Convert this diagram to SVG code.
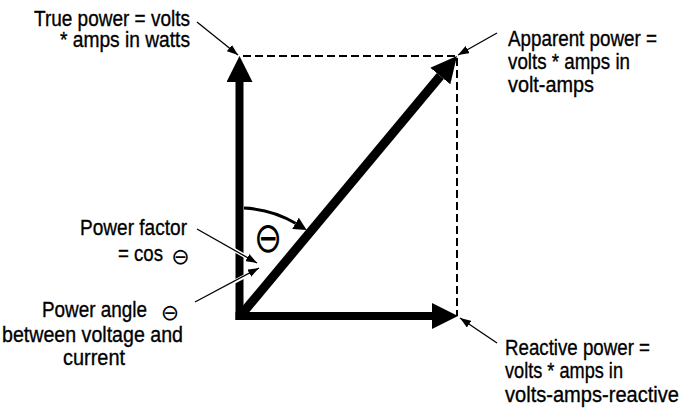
<svg xmlns="http://www.w3.org/2000/svg" width="684" height="416" viewBox="0 0 684 416">
<style>
.lbl{font-family:"Liberation Sans",Arial,sans-serif;font-size:22.5px;fill:#000;stroke:#000;stroke-width:0.35}
.sym{font-family:"DejaVu Sans",sans-serif;fill:#000}
.thick{stroke:#000;fill:none}
.dash{stroke:#000;stroke-width:2;stroke-dasharray:8 4;fill:none}
.lead{stroke:#000;stroke-width:1.3;fill:none;marker-end:url(#thin)}
.halo{stroke:#fff;stroke-width:4;fill:none}
</style>
<defs>
<marker id="big" markerUnits="userSpaceOnUse" viewBox="0 0 26 26" markerWidth="26" markerHeight="26" refX="0" refY="13" orient="auto"><path d="M0,0 L26,13 L0,26 z" fill="#000"/></marker>
<marker id="thin" markerUnits="userSpaceOnUse" viewBox="0 0 11 8" markerWidth="11" markerHeight="8" refX="11" refY="4" orient="auto"><path d="M0,0 L11,4 L0,8 z" fill="#000"/></marker>
<marker id="arc" markerUnits="userSpaceOnUse" viewBox="0 0 13 13" markerWidth="13" markerHeight="13" refX="0" refY="6.5" orient="auto"><path d="M0,0 L13,6.5 L0,13 z" fill="#000"/></marker>
</defs>

<g id="vectors">
<line id="true-power-vector" class="thick" x1="239.5" y1="320" x2="239.5" y2="82" stroke-width="8" marker-end="url(#big)"/>
<line id="reactive-power-vector" class="thick" x1="235.5" y1="316" x2="432" y2="316" stroke-width="8" marker-end="url(#big)"/>
<line id="apparent-power-vector" class="thick" x1="241" y1="315" x2="440.3" y2="76" stroke-width="9" marker-end="url(#big)"/>
<path class="dash" d="M243 56 H457 V316"/>
<path id="angle-arc" d="M244 208.1 A108 108 0 0 1 295.5 223.3" stroke="#000" stroke-width="3" fill="none" marker-end="url(#arc)"/>
<text class="sym" x="268" y="252.5" font-size="42" text-anchor="middle" transform="translate(268 0) scale(0.8 1) translate(-268 0)">⊖</text>
</g>

<g id="connectors">
<line class="lead" x1="197" y1="22" x2="238" y2="55"/>
<line class="lead" x1="497" y1="33" x2="458" y2="55"/>
<line class="lead" x1="497" y1="343" x2="460" y2="318"/>
<line class="halo" x1="197" y1="229" x2="252" y2="260"/>
<line class="lead" x1="197" y1="229" x2="257" y2="263"/>
<line class="halo" x1="195" y1="302" x2="253" y2="272"/>
<line class="lead" x1="195" y1="302" x2="259" y2="268"/>
</g>

<g id="true-power">
<text class="lbl" x="190" y="26" text-anchor="end" textLength="156" lengthAdjust="spacingAndGlyphs">True power = volts</text>
<text class="lbl" x="190" y="47" text-anchor="end" textLength="130" lengthAdjust="spacingAndGlyphs">* amps in watts</text>
</g>

<g id="apparent-power">
<text class="lbl" x="508" y="46" textLength="149" lengthAdjust="spacingAndGlyphs">Apparent power =</text>
<text class="lbl" x="508" y="69" textLength="122" lengthAdjust="spacingAndGlyphs">volts * amps in</text>
<text class="lbl" x="508" y="92" textLength="86" lengthAdjust="spacingAndGlyphs">volt-amps</text>
</g>

<g id="reactive-power">
<text class="lbl" x="505" y="355" textLength="145" lengthAdjust="spacingAndGlyphs">Reactive power =</text>
<text class="lbl" x="505" y="378" textLength="118" lengthAdjust="spacingAndGlyphs">volts * amps in</text>
<text class="lbl" x="505" y="402" textLength="174" lengthAdjust="spacingAndGlyphs">volts-amps-reactive</text>
</g>

<g id="power-factor">
<text class="lbl" x="80" y="235" textLength="107" lengthAdjust="spacingAndGlyphs">Power factor</text>
<text class="lbl" x="118" y="261" textLength="45" lengthAdjust="spacingAndGlyphs">= cos</text>
<text class="sym" x="180.5" y="263.5" font-size="22" text-anchor="middle">⊖</text>
</g>

<g id="power-angle">
<text class="lbl" x="42" y="317" textLength="105" lengthAdjust="spacingAndGlyphs">Power angle</text>
<text class="sym" x="170" y="319.5" font-size="22" text-anchor="middle">⊖</text>
<text class="lbl" x="2" y="342" textLength="181" lengthAdjust="spacingAndGlyphs">between voltage and</text>
<text class="lbl" x="63" y="365" textLength="62" lengthAdjust="spacingAndGlyphs">current</text>
</g>
</svg>
